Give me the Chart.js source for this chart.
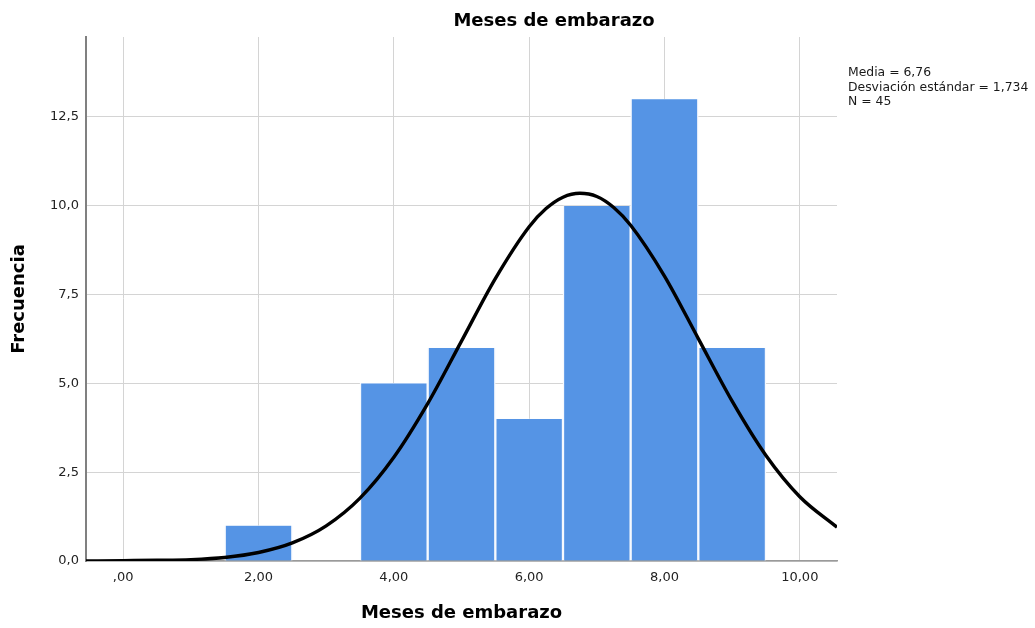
<!DOCTYPE html>
<html>
<head>
<meta charset="utf-8">
<script src="https://cdn.jsdelivr.net/npm/chart.js@4"></script>
<style>
  html, body { margin: 0; padding: 0; background: #ffffff; }
  #wrap { position: relative; width: 1035px; height: 628px; }
</style>
</head>
<body>
<div id="wrap"><canvas id="c" width="1035" height="628"></canvas></div>
<script>
// ---- data ----
const chartTitle = 'Meses de embarazo';
const xTitle = 'Meses de embarazo';
const yTitle = 'Frecuencia';
const statLines = ['Media = 6,76', 'Desviación estándar = 1,734', 'N = 45'];

const binCenters = [2, 4, 5, 6, 7, 8, 9];
const frequencies = [1, 5, 6, 4, 10, 13, 6];

const curveX = [-0.55, 0, 0.5, 1, 1.5, 2, 2.5, 3, 3.5, 4, 4.5, 5, 5.5, 6, 6.25, 6.5, 6.75, 7, 7.25, 7.5, 8, 8.5, 9, 9.5, 10, 10.55];
const curveY = [0.00, 0.01, 0.02, 0.04, 0.10, 0.24, 0.51, 0.99, 1.77, 2.92, 4.43, 6.19, 7.95, 9.41, 9.92, 10.24, 10.35, 10.26, 9.95, 9.45, 8.02, 6.26, 4.50, 2.97, 1.81, 0.95];

const xTicks = [0, 2, 4, 6, 8, 10];
const xTickLabels = [',00', '2,00', '4,00', '6,00', '8,00', '10,00'];
const yTicks = [0, 2.5, 5, 7.5, 10, 12.5];
const yTickLabels = ['0,0', '2,5', '5,0', '7,5', '10,0', '12,5'];

const xMin = -0.55, xMax = 10.55;
const yMin = 0, yMax = 14.75;

// ---- build chart ----
const FONT = '"DejaVu Sans", "Liberation Sans", Arial, sans-serif';

const textPlugin = {
  id: 'texts',
  afterDraw(chart) {
    const ctx = chart.ctx;
    ctx.save();
    ctx.fillStyle = '#000000';
    ctx.font = 'bold 18px ' + FONT;
    ctx.textAlign = 'center';
    ctx.textBaseline = 'middle';
    ctx.fillText(chartTitle, 554, 21);
    ctx.font = '12.4px ' + FONT;
    ctx.textAlign = 'left';
    ctx.fillStyle = '#1a1a1a';
    statLines.forEach((t, i) => ctx.fillText(t, 848, 73 + i * 14.4));
    ctx.restore();
  }
};

new Chart(document.getElementById('c'), {
  type: 'bar',
  data: {
    datasets: [
      {
        type: 'line',
        label: 'Normal',
        data: curveX.map((x, i) => ({ x: x, y: curveY[i] })),
        borderColor: '#000000',
        borderWidth: 3.4,
        pointRadius: 0,
        fill: false,
        cubicInterpolationMode: 'monotone',
        order: 0
      },
      {
        type: 'bar',
        label: 'Frecuencia',
        data: binCenters.map((x, i) => ({ x: x, y: frequencies[i] })),
        backgroundColor: '#5594E5',
        borderColor: 'rgba(246,249,254,1)',
        borderWidth: { left: 1.5, right: 1.5, top: 0.5, bottom: 0 },
        borderSkipped: false,
        barPercentage: 1,
        categoryPercentage: 1,
        order: 1
      }
    ]
  },
  options: {
    responsive: false,
    animation: false,
    events: [],
    layout: { padding: { left: 0, right: 198, top: 37, bottom: 0 } },
    plugins: {
      legend: { display: false },
      tooltip: { enabled: false },
      title: { display: false }
    },
    scales: {
      x: {
        type: 'linear',
        min: xMin,
        max: xMax,
        offset: false,
        afterBuildTicks: s => { s.ticks = xTicks.map(v => ({ value: v })); },
        afterFit: s => { s.height = 67; },
        ticks: {
          callback: (v, i) => xTickLabels[i],
          font: { family: FONT, size: 13 },
          color: '#222222',
          padding: 9,
          maxRotation: 0,
          autoSkip: false
        },
        grid: { color: '#d4d4d4', lineWidth: 1, drawTicks: false, offset: false },
        border: { display: true, color: '#9a9a9a', width: 1.5 },
        title: {
          display: true,
          text: xTitle,
          font: { family: FONT, size: 18, weight: 'bold' },
          color: '#000000',
          padding: { top: 0, bottom: 4 }
        }
      },
      y: {
        type: 'linear',
        min: yMin,
        max: yMax,
        afterBuildTicks: s => { s.ticks = yTicks.map(v => ({ value: v })); },
        afterFit: s => { s.width = 86; },
        ticks: {
          callback: (v, i) => yTickLabels[i],
          font: { family: FONT, size: 13 },
          color: '#222222',
          padding: 7,
          autoSkip: false
        },
        grid: { color: '#d4d4d4', lineWidth: 1, drawTicks: false },
        border: { display: true, color: '#808080', width: 2 },
        title: {
          display: true,
          text: yTitle,
          font: { family: FONT, size: 18, weight: 'bold' },
          color: '#000000',
          padding: { top: 9, bottom: 0 }
        }
      }
    }
  },
  plugins: [textPlugin]
});
</script>
</body>
</html>
